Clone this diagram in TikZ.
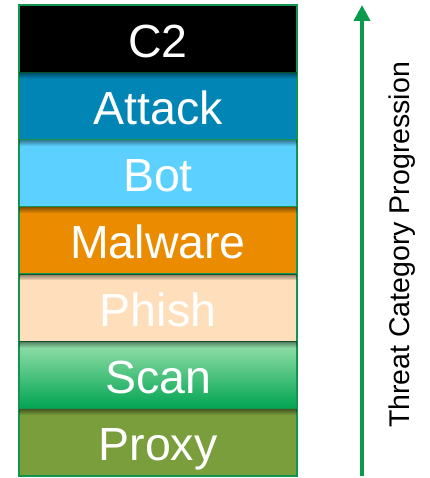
\documentclass[tikz,border=0pt]{standalone}
\usepackage{fontspec}
\setmainfont{Liberation Sans}
\usetikzlibrary{arrows.meta, fadings}
\definecolor{tier-c2}{HTML}{000000}
\definecolor{tier-attack}{HTML}{0085B4}
\definecolor{tier-bot}{HTML}{5CD1FF}
\definecolor{tier-malware}{HTML}{EA8B00}
\definecolor{tier-phish}{HTML}{FFDFBB}
\definecolor{scan-top}{HTML}{98E0AC}
\definecolor{scan-bottom}{HTML}{00A452}
\definecolor{tier-proxy}{HTML}{7A9E3B}
\definecolor{edge-green}{HTML}{12964F}
\definecolor{arrow-green}{HTML}{0B9A4C}

\begin{document}
\begin{tikzpicture}[x=1pt, y=1pt,
    tier/.style={draw=edge-green, line width=1.3pt, minimum width=278pt,
      minimum height=67.3pt, inner sep=0pt, text=white, text height=37pt,
      text depth=0pt, font=\fontsize{46.5}{46.5}\selectfont}]
    \useasboundingbox (0,0) rectangle (429,478);
    \node[tier, fill=tier-c2] (c2) at (158, 439.4) {C2};
    \node[tier, fill=tier-attack] (attack) at (158, 372.1) {Attack};
    \node[tier, fill=tier-bot] (bot) at (158, 304.8) {Bot};
    \node[tier, fill=tier-malware] (malware) at (158, 237.5) {Malware};
    \node[tier, fill=tier-phish] (phish) at (158, 170.2) {Phish};
    \node[tier, top color=scan-top, bottom color=scan-bottom] (scan)
      at (158, 102.9) {Scan};
    \node[tier, fill=tier-proxy] (proxy) at (158, 35.6) {Proxy};
    % soft shadow under the top edge of each tier
    \foreach \t in {attack, bot, malware, phish, scan, proxy}
      \fill[black, opacity=0.45, path fading=south]
        ([xshift=0.7pt, yshift=-0.7pt]\t.north west) rectangle
        ([xshift=-0.7pt, yshift=-7pt]\t.north east);
    \coordinate (base) at (362, 2);
    \coordinate (tip) at (362, 473);
    \draw[-{Triangle[width=16pt, length=16pt]}, line width=4.5pt,
      color=arrow-green] (base) -- (tip);
    \node[rotate=90, font=\fontsize{28.5}{28.5}\selectfont] (lbl)
      at (402, 233) {Threat Category Progression};
  \end{tikzpicture}
\end{document}
